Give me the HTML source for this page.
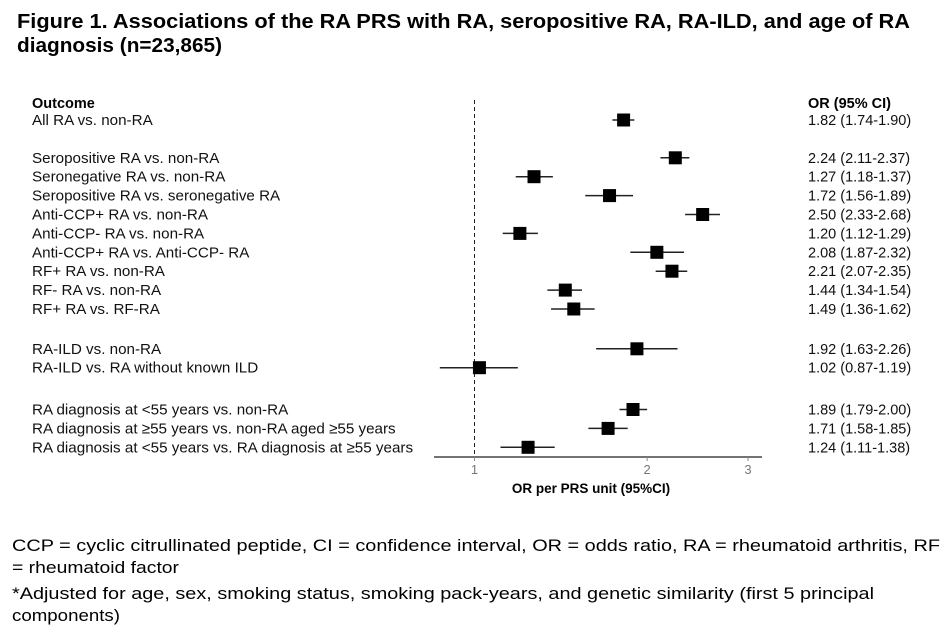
<!DOCTYPE html>
<html><head><meta charset="utf-8"><style>
body{margin:0;background:#fff}
svg{display:block;font-family:"Liberation Sans",Arial,sans-serif}
</style></head><body>
<svg id="fig" width="950" height="634" viewBox="0 0 950 634">
<g font-weight="bold" font-size="20" fill="#000">
<text x="17" y="28" textLength="893" lengthAdjust="spacingAndGlyphs">Figure 1. Associations of the RA PRS with RA, seropositive RA, RA-ILD, and age of RA</text>
<text x="17" y="52" textLength="205" lengthAdjust="spacingAndGlyphs">diagnosis (n=23,865)</text>
</g>
<text x="32" y="108" font-size="14.5" font-weight="bold">Outcome</text>
<text x="808" y="108" font-size="14.5" font-weight="bold">OR (95% CI)</text>
<g id="labels" font-size="15.2" fill="#111"></g>
<g id="ortext" font-size="14.5" fill="#111"></g>
<line x1="474.5" y1="100" x2="474.5" y2="457" stroke="#222" stroke-width="1" stroke-dasharray="4,3"/>
<g id="marks"></g>
<line x1="434" y1="457" x2="762" y2="457" stroke="#222" stroke-width="1.2"/>
<g id="ticks" font-size="13" fill="#777" text-anchor="middle"></g>
<text x="591" y="493" font-size="13.5" font-weight="bold" text-anchor="middle">OR per PRS unit (95%CI)</text>
<g font-size="17" fill="#000">
<text x="12" y="551" textLength="928" lengthAdjust="spacingAndGlyphs">CCP = cyclic citrullinated peptide, CI = confidence interval, OR = odds ratio, RA = rheumatoid arthritis, RF</text>
<text x="12" y="573" textLength="167" lengthAdjust="spacingAndGlyphs">= rheumatoid factor</text>
<text x="12" y="599" textLength="862" lengthAdjust="spacingAndGlyphs">*Adjusted for age, sex, smoking status, smoking pack-years, and genetic similarity (first 5 principal</text>
<text x="12" y="621" textLength="108" lengthAdjust="spacingAndGlyphs">components)</text>
</g>
</svg>
<script>
const outcomes = ["All RA vs. non-RA","Seropositive RA vs. non-RA","Seronegative RA vs. non-RA","Seropositive RA vs. seronegative RA","Anti-CCP+ RA vs. non-RA","Anti-CCP- RA vs. non-RA","Anti-CCP+ RA vs. Anti-CCP- RA","RF+ RA vs. non-RA","RF- RA vs. non-RA","RF+ RA vs. RF-RA","RA-ILD vs. non-RA","RA-ILD vs. RA without known ILD","RA diagnosis at <55 years vs. non-RA","RA diagnosis at \u226555 years vs. non-RA aged \u226555 years","RA diagnosis at <55 years vs. RA diagnosis at \u226555 years"];
const orValues = [1.82,2.24,1.27,1.72,2.50,1.20,2.08,2.21,1.44,1.49,1.92,1.02,1.89,1.71,1.24];
const ciLow = [1.74,2.11,1.18,1.56,2.33,1.12,1.87,2.07,1.34,1.36,1.63,0.87,1.79,1.58,1.11];
const ciHigh = [1.90,2.37,1.37,1.89,2.68,1.29,2.32,2.35,1.54,1.62,2.26,1.19,2.00,1.85,1.38];
const rowSlots = [0,2,3,4,5,6,7,8,9,10,12,13,15,16,17];
const tickValues = [1,2,3];
const NS="http://www.w3.org/2000/svg";
const xScale = v => 474.5 + 249*Math.log(v);
const yScale = s => 120 + s*18.9 + (s>=12?2:0) + (s>=15?4:0);
const mk=(t,a)=>{const e=document.createElementNS(NS,t);for(const k in a)e.setAttribute(k,a[k]);return e;};
const fmt=v=>v.toFixed(2);
const L=document.getElementById('labels'),R=document.getElementById('ortext'),M=document.getElementById('marks'),T=document.getElementById('ticks');
outcomes.forEach((o,i)=>{
  const y=yScale(rowSlots[i]);
  const t=mk('text',{x:32,y:y+5});t.textContent=o;
  
  
  L.appendChild(t);
  const r=mk('text',{x:808,y:y+5});r.textContent=fmt(orValues[i])+' ('+fmt(ciLow[i])+'-'+fmt(ciHigh[i])+')';
  
  
  R.appendChild(r);
  const l=mk('line',{x1:xScale(ciLow[i]),x2:xScale(ciHigh[i]),y1:y,y2:y,stroke:'#222','stroke-width':1.5});
  
  
  M.appendChild(l);
  const s=mk('rect',{x:xScale(orValues[i])-6.5,y:y-6.5,width:13,height:13,fill:'#000'});
  
  
  M.appendChild(s);
});
tickValues.forEach(v=>{
  const x=xScale(v);
  const l=mk('line',{x1:x,x2:x,y1:457,y2:461,stroke:'#888'});
  
  
  T.appendChild(l);
  const t=mk('text',{x:x,y:474});t.textContent=v;
  
  
  T.appendChild(t);
});
</script>
</body></html>
